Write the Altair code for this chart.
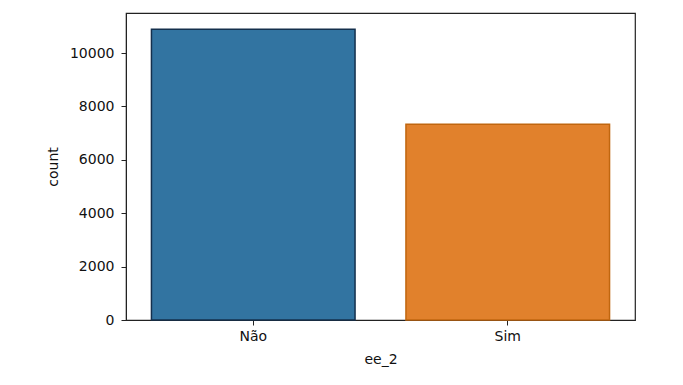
import altair as alt
import pandas as pd

categories = ["Não", "Sim"]
counts = [10890, 7330]
fill_colors = ["#3274a1", "#e1812c"]
edge_colors = ["#14304d", "#c0660f"]

df = pd.DataFrame({"ee_2": categories, "count": counts})

font = "DejaVu Sans"
fs = 14

bars = alt.Chart(df).mark_bar(strokeWidth=1.5).encode(
    x=alt.X("ee_2:N", sort=categories, title="ee_2",
            scale=alt.Scale(paddingInner=0.2, paddingOuter=0.1),
            axis=alt.Axis(labelAngle=0, tickSize=5, labelPadding=4, titlePadding=9,
                          domainColor="#222222", tickColor="#222222",
                          labelColor="#111111", titleColor="#111111",
                          labelFontSize=fs, titleFontSize=fs, labelFont=font,
                          titleFont=font, titleFontWeight="normal", grid=False)),
    y=alt.Y("count:Q", title="count",
            scale=alt.Scale(domain=[0, 11500], nice=False),
            axis=alt.Axis(values=[0, 2000, 4000, 6000, 8000, 10000], tickSize=5,
                          labelPadding=7, titlePadding=9, format="d",
                          domainColor="#222222", tickColor="#222222",
                          labelColor="#111111", titleColor="#111111",
                          labelFontSize=fs, titleFontSize=fs, labelFont=font,
                          titleFont=font, titleFontWeight="normal", grid=False)),
    color=alt.Color("ee_2:N", scale=alt.Scale(domain=categories, range=fill_colors), legend=None),
    stroke=alt.Stroke("ee_2:N", scale=alt.Scale(domain=categories, range=edge_colors), legend=None),
)

chart = bars.properties(
    width=509,
    height=307,
    autosize=alt.AutoSizeParams(type="none"),
    padding={"left": 118, "top": 5, "right": 30, "bottom": 50},
    background="white",
).configure_view(stroke="#222222", strokeWidth=1.2)

chart.save("out.html", embed_options={"renderer": "svg", "actions": False})
